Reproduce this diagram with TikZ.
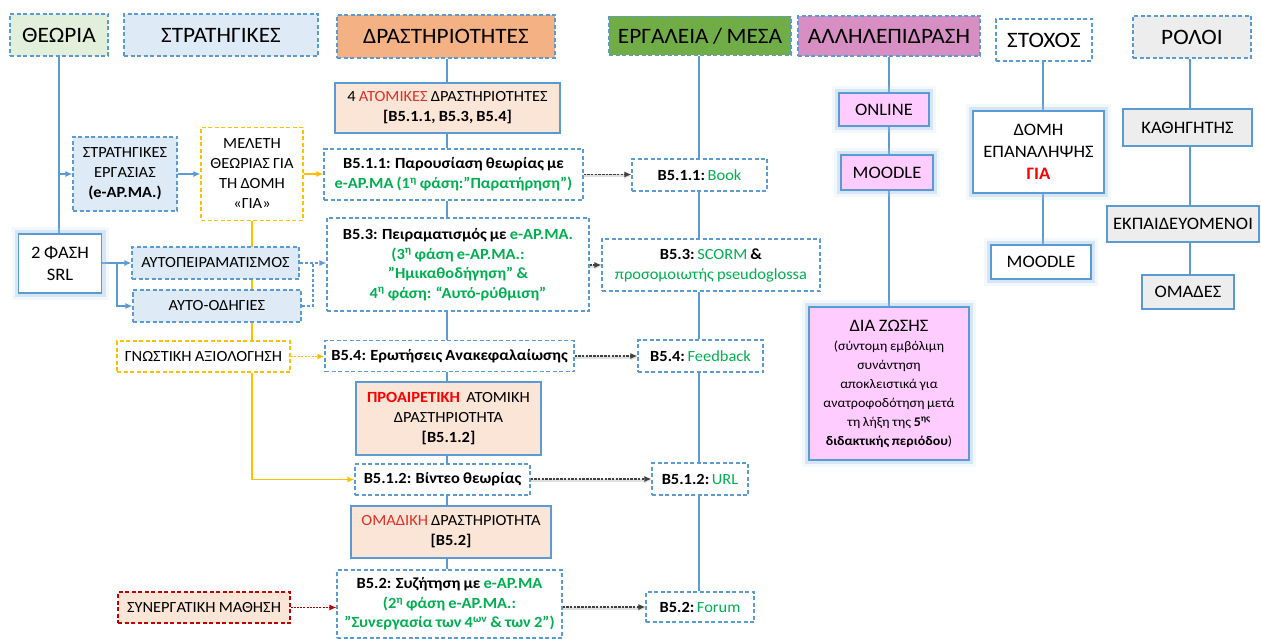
\documentclass[tikz,border=0pt]{standalone}
\usepackage{fontspec}
\setmainfont{Carlito}[FakeStretch=1.06, WordSpace=0.85]
\usetikzlibrary{arrows.meta,backgrounds}

\definecolor{bl}{HTML}{5B9BD5}
\definecolor{lbl}{HTML}{DEEBF7}
\definecolor{lgr}{HTML}{E2EFDA}
\definecolor{org}{HTML}{F4B183}
\definecolor{grh}{HTML}{70AD47}
\definecolor{pkh}{HTML}{D78FC3}
\definecolor{pkn}{HTML}{FFCCFF}
\definecolor{gyn}{HTML}{EDEDED}
\definecolor{pch}{HTML}{FBE5D6}
\definecolor{yl}{HTML}{FFC000}
\definecolor{drd}{HTML}{C00000}
\definecolor{gtx}{HTML}{00B050}
\definecolor{rtx}{HTML}{FF0000}
\definecolor{rtb}{HTML}{E0302A}
\definecolor{dk}{HTML}{404040}

\tikzset{
  sz/.style 2 args={minimum width=#1pt, minimum height=#2pt},
  box/.style={rectangle, inner sep=0pt, align=center, text=black,
    font=\fontsize{15.5}{20}\selectfont},
  dbox/.style={box, draw=bl, line width=1.1pt, dash pattern=on 4pt off 2.5pt},
  sbox/.style={box, draw=bl, line width=1.4pt},
  ybox/.style={box, draw=yl, line width=1.1pt, dash pattern=on 4pt off 2.5pt, fill=white},
  hdr/.style={dbox, font=\fontsize{22}{26}\selectfont},
  big/.style={font=\fontsize{17.5}{22}\selectfont},
  glow/.style={preaction={draw=bl!50, line width=14pt, opacity=0.15},
               preaction={draw=bl!65, line width=8pt, opacity=0.3}},
  bline/.style={draw=bl, line width=1.3pt},
  barrow/.style={bline, -{Latex[length=7pt,width=6pt]}},
  bdarrow/.style={bline, dash pattern=on 3pt off 2pt, -{Latex[length=7pt,width=6pt]}},
  bdline/.style={bline, dash pattern=on 3pt off 2pt},
  yline/.style={draw=yl, line width=1.5pt},
  yarrow/.style={yline, -{Latex[length=7pt,width=6pt]}},
  ydarrow/.style={yline, dash pattern=on 2pt off 1.5pt, -{Latex[length=7pt,width=6pt]}},
  karrow/.style={draw=dk, line width=1.2pt, dash pattern=on 2.5pt off 1.2pt,
    -{Latex[length=7pt,width=6pt]},
    preaction={draw=black!12, line width=3pt, transform canvas={yshift=-1.5pt}}},
  rarrow/.style={draw=drd, line width=1.2pt, dash pattern=on 2pt off 1.2pt,
    -{Latex[length=7pt,width=6pt]}},
}

\begin{document}
\begin{tikzpicture}[x=1pt,y=-1pt]
\useasboundingbox (0,0) rectangle (1261,639);

% column headers
\node[hdr, fill=lgr, sz={98}{42}] (theo) at (59,35) {ΘΕΩΡΙΑ};
\node[hdr, fill=lbl, sz={194}{42}] (strat) at (221,35) {ΣΤΡΑΤΗΓΙΚΕΣ};
\node[hdr, fill=org, sz={218}{43}] (act) at (446,36.5) {ΔΡΑΣΤΗΡΙΟΤΗΤΕΣ};
\node[hdr, fill=grh, sz={182}{39}] (tools) at (700,36) {ΕΡΓΑΛΕΙΑ / ΜΕΣΑ};
\node[hdr, fill=pkh, sz={182}{40}] (inter) at (889,36) {ΑΛΛΗΛΕΠΙΔΡΑΣΗ};
\node[hdr, fill=white, sz={96}{42}] (goal) at (1044,40) {ΣΤΟΧΟΣ};
\node[hdr, fill=gyn, sz={118}{42}] (roles) at (1192,37) {ΡΟΛΟΙ};

% strategies column
\node[dbox, fill=lbl, sz={104}{74}] (stratwork) at (125,174) {ΣΤΡΑΤΗΓΙΚΕΣ\\ΕΡΓΑΣΙΑΣ\\\textbf{(e-ΑΡ.ΜΑ.)}};
\node[ybox, sz={102}{93}] (melet) at (252,174) {ΜΕΛΕΤΗ\\ΘΕΩΡΙΑΣ ΓΙΑ\\ΤΗ ΔΟΜΗ\\«ΓΙΑ»};
\node[sbox, glow, fill=white, big, sz={83}{59}] (srl) at (60,263.5) {2 ΦΑΣΗ\\SRL};
\node[dbox, fill=lbl, sz={167}{32}] (autop) at (215.5,263) {ΑΥΤΟΠΕΙΡΑΜΑΤΙΣΜΟΣ};
\node[dbox, fill=lbl, sz={168}{32}] (autood) at (217,306) {ΑΥΤΟ-ΟΔΗΓΙΕΣ};
\node[ybox, sz={173}{31}] (gnost) at (203.5,356.5) {ΓΝΩΣΤΙΚΗ ΑΞΙΟΛΟΓΗΣΗ};
\node[box, draw=drd, line width=1.1pt, dash pattern=on 4pt off 2.5pt, fill=pch, sz={172}{31}] (synerg) at (204,607.5) {ΣΥΝΕΡΓΑΤΙΚΗ ΜΑΘΗΣΗ};

% activities column
\node[sbox, fill=pch, sz={225}{50}] (atom4) at (447.5,108) {4 \textcolor{rtb}{ΑΤΟΜΙΚΕΣ} ΔΡΑΣΤΗΡΙΟΤΗΤΕΣ\\\textbf{[B5.1.1, B5.3, B5.4]}};
\node[dbox, fill=white, sz={259}{51}] (b511) at (453.5,174.5) {\textbf{B5.1.1: Παρουσίαση θεωρίας με}\\\textbf{\textcolor{gtx}{e-ΑΡ.ΜΑ (1\textsuperscript{η} φάση:”Παρατήρηση”)}}};
\node[dbox, fill=white, sz={262}{93}, font=\fontsize{15.5}{19.5}\selectfont\bfseries] (b53) at (458,264.5) {B5.3: Πειραματισμός με \textcolor{gtx}{e-ΑΡ.ΜΑ.}\\\textcolor{gtx}{(3\textsuperscript{η} φάση e-ΑΡ.ΜΑ.:}\\\textcolor{gtx}{”Ημικαθοδήγηση” \&}\\\textcolor{gtx}{4\textsuperscript{η} φάση: “Αυτό-ρύθμιση”}};
\node[dbox, fill=white, sz={249}{31}] (b54) at (449.5,356) {\textbf{B5.4: Ερωτήσεις Ανακεφαλαίωσης}};
\node[sbox, fill=pch, sz={185}{73}] (proair) at (448.5,418.5) {\textcolor{rtx}{\textbf{ΠΡΟΑΙΡΕΤΙΚΗ}}\ \ ΑΤΟΜΙΚΗ\\ΔΡΑΣΤΗΡΙΟΤΗΤΑ\\\textbf{[B5.1.2]}};
\node[dbox, fill=white, sz={175}{31}] (b512) at (442.5,479.5) {\textbf{B5.1.2: Βίντεο θεωρίας}};
\node[sbox, fill=pch, sz={200}{52}] (omad) at (451,532) {\textcolor{rtb}{ΟΜΑΔΙΚΗ} ΔΡΑΣΤΗΡΙΟΤΗΤΑ\\\textbf{[B5.2]}};
\node[dbox, fill=white, sz={225}{68}, font=\fontsize{15.5}{19.5}\selectfont\bfseries] (b52) at (449.5,604) {B5.2: Συζήτηση με \textcolor{gtx}{e-ΑΡ.ΜΑ}\\\textcolor{gtx}{(2\textsuperscript{η} φάση e-ΑΡ.ΜΑ.:}\\\textcolor{gtx}{”Συνεργασία των 4\textsuperscript{ων} \& των 2”)}};

% tools column
\node[dbox, fill=white, sz={135}{32}] (book) at (699.5,175) {\textbf{B5.1.1:}\,\textcolor{gtx}{Book}};
\node[dbox, fill=white, sz={218}{52}] (scorm) at (711,265) {\textbf{B5.3:}\,\textcolor{gtx}{SCORM} \textbf{\&}\\\textcolor{gtx}{προσομοιωτής pseudoglossa}};
\node[dbox, fill=white, sz={125}{32}] (feed) at (700.5,356) {\textbf{B5.4:}\,\textcolor{gtx}{Feedback}};
\node[dbox, fill=white, sz={96}{32}] (url) at (700,479) {\textbf{B5.1.2:}\,\textcolor{gtx}{URL}};
\node[dbox, fill=white, sz={108}{30}] (forum) at (700,607) {\textbf{B5.2:}\,\textcolor{gtx}{Forum}};

% interaction column
\node[sbox, glow, fill=pkn, big, sz={90}{33}] (online) at (884,109.5) {ONLINE};
\node[sbox, glow, fill=pkn, big, sz={92}{35}] (moodlea) at (887,172.5) {MOODLE};
\node[sbox, glow, fill=pkn, sz={160}{153}, font=\fontsize{13.2}{19}\selectfont] (dia) at (889,383.5) {{\fontsize{17.5}{21}\selectfont ΔΙΑ ΖΩΣΗΣ}\\(σύντομη εμβόλιμη\\συνάντηση\\αποκλειστικά για\\ανατροφοδότηση μετά\\τη λήξη της \textbf{5\textsuperscript{ης}}\\\textbf{διδακτικής περιόδου})};

% goal column
\node[sbox, glow, fill=white, big, sz={131}{82}] (domi) at (1038.5,152) {ΔΟΜΗ\\ΕΠΑΝΑΛΗΨΗΣ\\\textcolor{rtx}{\textbf{ΓΙΑ}}};
\node[sbox, glow, fill=white, big, sz={100}{34}] (moodleb) at (1041,262) {MOODLE};

% roles column
\node[sbox, fill=gyn, big, sz={129}{37}] (kath) at (1187.5,127.5) {ΚΑΘΗΓΗΤΗΣ};
\node[sbox, fill=gyn, big, sz={152}{36}] (ekp) at (1183,224) {ΕΚΠΑΙΔΕΥΟΜΕΝΟΙ};
\node[sbox, fill=gyn, big, sz={92}{34}] (omades) at (1188,292) {ΟΜΑΔΕΣ};

% spine positions
\coordinate (mx) at (447,0);
\coordinate (tx) at (699,0);
\coordinate (ix) at (889,0);
\coordinate (gx) at (1043,0);
\coordinate (rx) at (1190,0);
\coordinate (sb) at (117,263);
\coordinate (ej) at (313,263);

\begin{scope}[on background layer]
  % theory branch
  \draw[bline] (theo.south) -- (theo.south |- srl.north);
  \draw[barrow] (theo.south |- stratwork.west) -- (stratwork.west);
  \draw[barrow] (stratwork.east) -- (melet.west);
  % self-regulated learning branches
  \draw[barrow] (srl.east |- autop.west) -- (autop.west);
  \draw[barrow] (sb) |- (autood.west);
  \draw[bdarrow] (autop.east) -- (b53.west |- autop.east);
  \draw[bdline] (autood.east) -| (ej);
  % theory study and assessment (yellow)
  \draw[yarrow] (melet.east) -- (b511.west |- melet.east);
  \draw[yline] (melet.south) -- (melet.south |- gnost.north);
  \draw[ydarrow] (gnost.east) -- (b54.west |- gnost.east);
  \draw[yarrow] (melet.south |- gnost.south) |- (b512.west);
  \draw[rarrow] (synerg.east) -- (b52.west |- synerg.east);
  % activities spine
  \draw[bline] (act.south -| mx) -- (atom4.north -| mx);
  \draw[bline] (atom4.south -| mx) -- (b511.north -| mx);
  \draw[bline] (b511.south -| mx) -- (b53.north -| mx);
  \draw[bline] (b53.south -| mx) -- (b54.north -| mx);
  \draw[bline] (b54.south -| mx) -- (proair.north -| mx);
  \draw[bline] (proair.south -| mx) -- (b512.north -| mx);
  \draw[bline] (b512.south -| mx) -- (omad.north -| mx);
  \draw[bline] (omad.south -| mx) -- (b52.north -| mx);
  % tools spine
  \draw[bline] (tools.south -| tx) -- (book.north -| tx);
  \draw[bline] (book.south -| tx) -- (scorm.north -| tx);
  \draw[bline] (scorm.south -| tx) -- (feed.north -| tx);
  \draw[bline] (feed.south -| tx) -- (url.north -| tx);
  \draw[bline] (url.south -| tx) -- (forum.north -| tx);
  % interaction, goal and roles spines
  \draw[bline] (inter.south -| ix) -- (online.north -| ix);
  \draw[bline] (online.south -| ix) -- (moodlea.north -| ix);
  \draw[bline] (moodlea.south -| ix) -- (dia.north -| ix);
  \draw[bline] (goal.south -| gx) -- (domi.north -| gx);
  \draw[bline] (domi.south -| gx) -- (moodleb.north -| gx);
  \draw[bline] (roles.south -| rx) -- (kath.north -| rx);
  \draw[bline] (kath.south -| rx) -- (ekp.north -| rx);
  \draw[bline] (ekp.south -| rx) -- (omades.north -| rx);
\end{scope}

% activity to tool links
\draw[karrow] (b511.east) -- (book.west |- b511.east);
\draw[karrow] (b53.east |- scorm.west) -- (scorm.west);
\draw[karrow] (b54.east) -- (feed.west |- b54.east);
\draw[karrow] (b512.east |- url.west) -- (url.west);
\draw[karrow] (b52.east |- forum.west) -- (forum.west);
\end{tikzpicture}
\end{document}
